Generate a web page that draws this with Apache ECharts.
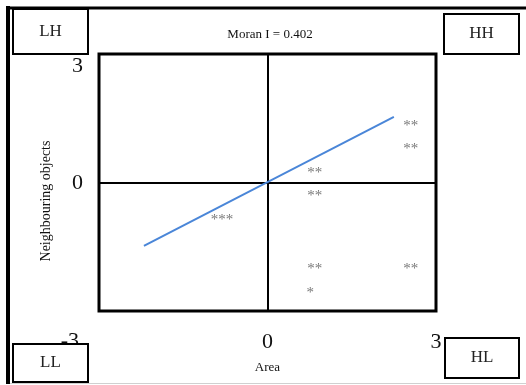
<!DOCTYPE html>
<html>
<head>
<meta charset="utf-8">
<script src="https://cdn.jsdelivr.net/npm/echarts@6/dist/echarts.min.js"></script>
<style>html,body{margin:0;padding:0;background:#fff;}#c{width:526px;height:385px;}</style>
</head>
<body>
<div id="c"></div>
<script>
const titleText = 'Moran I = 0.402';
const xAxisName = 'Area';
const yAxisName = 'Neighbouring objects';
const pointX = [2.55, 2.55, 0.84, 0.84, -0.81, 0.84, 2.55, 0.76];
const pointY = [1.37, 0.83, 0.27, -0.27, -0.83, -1.97, -1.97, -2.53];
const pointLabels = ['**', '**', '**', '**', '***', '**', '**', '*'];
const trendX = [-2.2, 2.25];
const trendY = [-1.48, 1.53];
const xTickValues = [0, 3];
const yTickLabels = ['3', '0', '-3'];
const quadrantLabels = ['LH', 'HH', 'LL', 'HL'];

const serif = '"Liberation Serif", "DejaVu Serif", serif';
const chart = echarts.init(document.getElementById('c'), null, {renderer: 'canvas'});

const pts = pointX.map((x, i) => ({value: [x, pointY[i]], label: {formatter: pointLabels[i]}}));
const trend = trendX.map((x, i) => [x, trendY[i]]);

function box(x, y, w, h, text) {
  return {
    type: 'group', z: 100,
    children: [
      {type: 'rect', shape: {x: x, y: y, width: w, height: h},
       style: {fill: '#fff', stroke: '#000', lineWidth: 2}},
      {type: 'text', x: x + w / 2, y: y + h / 2,
       style: {text: text, font: '17px ' + serif, fill: '#222', align: 'center', verticalAlign: 'middle'}}
    ]
  };
}

chart.setOption({
  animation: false,
  backgroundColor: '#fff',
  title: {
    text: titleText, left: 265, top: 23, textAlign: 'center',
    textStyle: {fontFamily: serif, fontSize: 13, fontWeight: 'normal', color: '#111'}
  },
  grid: {left: 99, right: 90, top: 54, bottom: 74, show: true, borderColor: '#000', borderWidth: 3, backgroundColor: 'transparent'},
  xAxis: [
    {type: 'value', min: -3, max: 3, splitLine: {show: false},
     axisLine: {show: true, onZero: true, lineStyle: {color: '#000', width: 2}},
     axisTick: {show: false}, axisLabel: {show: false}},
    {type: 'value', min: -3, max: 3, position: 'bottom', splitLine: {show: false},
     axisLine: {show: false},
     axisTick: {show: true, customValues: [0], length: 7, lineStyle: {color: '#000', width: 2}},
     axisLabel: {show: true, customValues: xTickValues, margin: 20, fontFamily: serif, fontSize: 22, color: '#111'},
     name: xAxisName, nameLocation: 'middle', nameGap: 50,
     nameTextStyle: {fontFamily: serif, fontSize: 13, color: '#111'}}
  ],
  yAxis: [
    {type: 'value', min: -3, max: 3, splitLine: {show: false},
     axisLine: {show: true, onZero: true, lineStyle: {color: '#000', width: 2}},
     axisTick: {show: false}, axisLabel: {show: false}},
    {type: 'value', min: -3, max: 3, position: 'left', splitLine: {show: false},
     axisLine: {show: false},
     axisTick: {show: true, customValues: [0], length: 6, lineStyle: {color: '#000', width: 2}},
     axisLabel: {show: false}}
  ],
  series: [
    {type: 'line', data: trend, symbol: 'none', lineStyle: {color: '#4a86d8', width: 2}, z: 3},
    {type: 'scatter', data: pts, symbolSize: 0.1, itemStyle: {color: 'transparent'},
     label: {show: true, position: 'inside', fontFamily: serif, fontSize: 15, color: '#555', offset: [0, 2]}, z: 4}
  ],
  graphic: [
    {type: 'line', shape: {x1: 6, y1: 8, x2: 526, y2: 8}, style: {stroke: '#000', lineWidth: 3}},
    {type: 'line', shape: {x1: 8, y1: 6, x2: 8, y2: 384}, style: {stroke: '#000', lineWidth: 4}},
    {type: 'line', shape: {x1: 10, y1: 383.5, x2: 526, y2: 383.5}, style: {stroke: '#d0d0d0', lineWidth: 1}},
    {type: 'text', x: 83, y: 66, style: {text: yTickLabels[0], font: '22px ' + serif, fill: '#111', align: 'right', verticalAlign: 'middle'}},
    {type: 'text', x: 83, y: 183, style: {text: yTickLabels[1], font: '22px ' + serif, fill: '#111', align: 'right', verticalAlign: 'middle'}},
    {type: 'text', x: 79, y: 341, style: {text: yTickLabels[2], font: '22px ' + serif, fill: '#111', align: 'right', verticalAlign: 'middle'}},
    {type: 'text', x: 46, y: 201, rotation: Math.PI / 2,
     style: {text: yAxisName, font: '14px ' + serif, fill: '#111', align: 'center', verticalAlign: 'middle'}},
    box(13, 9, 75, 45, quadrantLabels[0]),
    box(444, 14, 75, 40, quadrantLabels[1]),
    box(13, 344, 75, 38, quadrantLabels[2]),
    box(445, 338, 74, 40, quadrantLabels[3])
  ]
});
</script>
</body>
</html>
